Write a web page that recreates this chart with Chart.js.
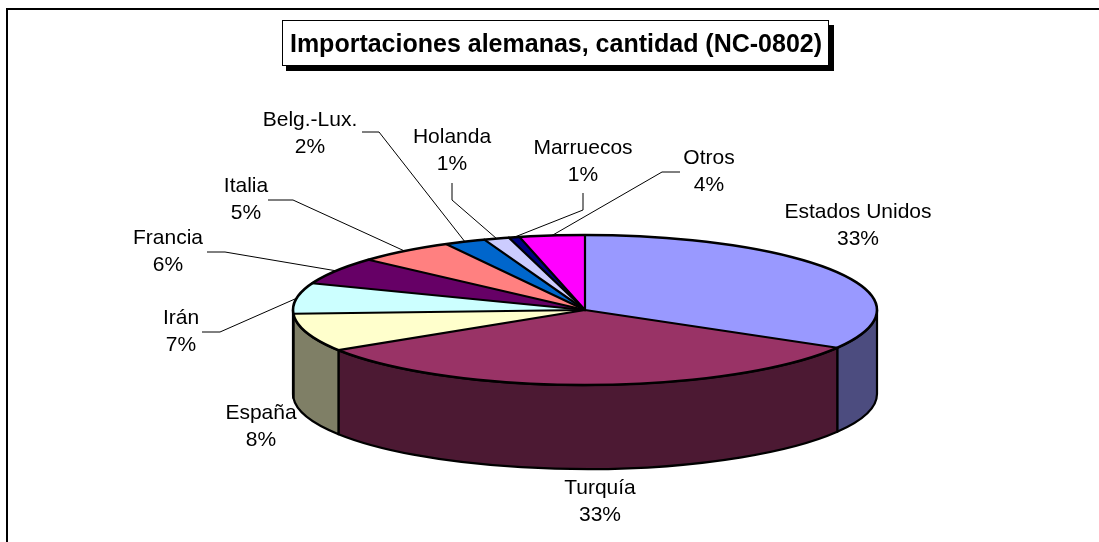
<!DOCTYPE html>
<html><head><meta charset="utf-8">
<script src="https://cdn.jsdelivr.net/npm/chart.js@4.4.0/dist/chart.umd.min.js"></script>
<style>html,body{margin:0;padding:0;background:#fff;} canvas{display:block;}</style>
</head><body>
<canvas id="c" width="1099" height="542"></canvas>
<script>
// ---- data ----
const categories = ['Estados Unidos','Turquía','España','Irán','Francia','Italia','Belg.-Lux.','Holanda','Marruecos','Otros'];
const shares = [33.4, 32.6, 8.2, 6.6, 5.9, 5.4, 2.3, 1.4, 0.6, 3.6];
const sliceColors = ['#9999FF','#993366','#FFFFCC','#CCFFFF','#660066','#FF8080','#0066CC','#CCCCFF','#000080','#FF00FF'];
const titleText = 'Importaciones alemanas, cantidad (NC-0802)';

// ---- layout (not data) ----
const PIE = {cx:585, cy:310, rx:292, ry:75, depth:84};
const labelLayout = [
  {x:858, y:212},
  {x:600, y:488},
  {x:261, y:413},
  {x:181, y:318, leader:[[202,332],[220,332]]},
  {x:168, y:238, leader:[[207,252],[225,252]]},
  {x:246, y:186, leader:[[268,200],[293,200]]},
  {x:310, y:120, leader:[[362,132],[379,132]]},
  {x:452, y:137, leader:[[452,183],[452,200]]},
  {x:583, y:148, leader:[[583,193],[583,210]]},
  {x:709, y:158, leader:[[680,172],[662,172]]}
];
const FONT = '"Liberation Sans", Arial, Helvetica, sans-serif';

function dark(hex){
  const n = parseInt(hex.slice(1),16);
  const r=(n>>16)&255, g=(n>>8)&255, b=n&255;
  return 'rgb('+(r>>1)+','+(g>>1)+','+(b>>1)+')';
}

const pie3d = {
  id:'pie3d',
  beforeDraw(chart){
    const ctx = chart.ctx;
    ctx.save();
    ctx.fillStyle='#fff'; ctx.fillRect(0,0,chart.width,chart.height);
    ctx.strokeStyle='#000'; ctx.lineWidth=2;
    ctx.beginPath(); ctx.moveTo(7,600); ctx.lineTo(7,9); ctx.lineTo(1200,9); ctx.stroke();
    ctx.restore();
  },
  beforeDatasetsDraw(chart){
    const ctx = chart.ctx;
    const arcs = chart.getDatasetMeta(0).data;
    const {cx,cy,rx,ry,depth} = PIE;
    ctx.save();
    arcs.forEach((arc,i)=>{
      const s=arc.startAngle, e=arc.endAngle;
      [[0,Math.PI],[2*Math.PI,3*Math.PI],[-2*Math.PI,-Math.PI]].forEach(([lo,hi])=>{
        const a1=Math.max(s,lo), a2=Math.min(e,hi);
        if(a2<=a1) return;
        ctx.beginPath();
        ctx.ellipse(cx,cy,rx,ry,0,a1,a2,false);
        ctx.ellipse(cx,cy+depth,rx,ry,0,a2,a1,true);
        ctx.closePath();
        ctx.fillStyle=dark(sliceColors[i]); ctx.fill();
        ctx.lineWidth=2.2; ctx.strokeStyle='#000'; ctx.lineJoin='round'; ctx.stroke();
      });
    });
    ctx.restore();
    ctx.save();
    const a = arcs[0];
    ctx.translate(cx,cy);
    ctx.scale(rx/a.outerRadius, ry/a.outerRadius);
    ctx.translate(-a.x,-a.y);
  },
  afterDatasetsDraw(chart){
    const ctx = chart.ctx;
    ctx.restore();
    const arcs = chart.getDatasetMeta(0).data;
    const {cx,cy,rx,ry} = PIE;
    ctx.save();
    ctx.strokeStyle='#000'; ctx.lineWidth=2.2; ctx.lineCap='round';
    arcs.forEach(arc=>{
      const s=arc.startAngle;
      ctx.beginPath(); ctx.moveTo(cx,cy);
      ctx.lineTo(cx+rx*Math.cos(s), cy+ry*Math.sin(s)); ctx.stroke();
    });
    ctx.lineWidth=2.6;
    ctx.beginPath(); ctx.ellipse(cx,cy,rx,ry,0,0,2*Math.PI); ctx.stroke();

    // labels
    const total = shares.reduce((p,v)=>p+v,0);
    ctx.lineWidth=1; ctx.lineCap='butt';
    arcs.forEach((arc,i)=>{
      const L = labelLayout[i];
      if(L.leader){
        const mid=(arc.startAngle+arc.endAngle)/2;
        ctx.beginPath();
        ctx.moveTo(L.leader[0][0],L.leader[0][1]);
        ctx.lineTo(L.leader[1][0],L.leader[1][1]);
        ctx.lineTo(cx+rx*Math.cos(mid), cy+ry*Math.sin(mid));
        ctx.stroke();
      }
      ctx.fillStyle='#000';
      ctx.font='21px '+FONT; ctx.textAlign='center'; ctx.textBaseline='middle';
      ctx.fillText(categories[i], L.x, L.y);
      ctx.fillText(Math.round(shares[i]/total*100)+'%', L.x, L.y+27);
    });

    // title box
    ctx.fillStyle='#000'; ctx.fillRect(286,25,548,46);
    ctx.fillStyle='#fff'; ctx.fillRect(282,20,547,46);
    ctx.lineWidth=1; ctx.strokeStyle='#000'; ctx.strokeRect(282.5,20.5,546,45);
    ctx.fillStyle='#000'; ctx.font='bold 25px '+FONT;
    ctx.fillText(titleText, 556, 45);
    ctx.restore();
  }
};

new Chart(document.getElementById('c'), {
  type:'pie',
  data:{labels:categories, datasets:[{data:shares, backgroundColor:sliceColors, borderWidth:0}]},
  options:{
    responsive:false, animation:false, events:[],
    layout:{padding:0},
    plugins:{legend:{display:false}, tooltip:{enabled:false}, title:{display:false}}
  },
  plugins:[pie3d]
});
</script>
</body></html>
